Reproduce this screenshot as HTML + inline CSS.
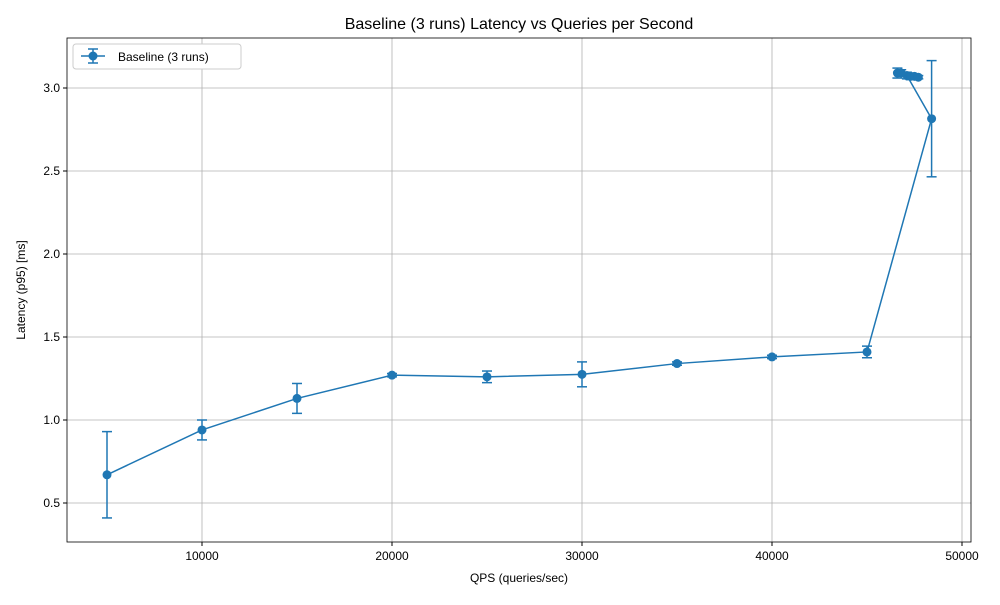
<!DOCTYPE html>
<html><head><meta charset="utf-8"><style>body{margin:0;background:#fff}svg{font-family:"Liberation Sans",sans-serif}</style></head>
<body>
<svg id="c" width="1000" height="600" xmlns="http://www.w3.org/2000/svg"></svg>
<script>
const qps=[5000,10000,15000,20000,25000,30000,35000,40000,45000,48400,47100,46600,46800,47300,47500,47700];
const latency=[0.67,0.94,1.13,1.27,1.26,1.275,1.34,1.38,1.41,2.815,3.075,3.09,3.09,3.07,3.07,3.065];
const errs=[0.26,0.06,0.09,0.01,0.035,0.075,0.01,0.01,0.035,0.35,0.02,0.03,0.02,0.02,0.01,0.01];
const xTicks=[10000,20000,30000,40000,50000];
const yTicks=[0.5,1.0,1.5,2.0,2.5,3.0];
const NS="http://www.w3.org/2000/svg",svg=document.getElementById('c');
const X=v=>12+v*0.019, Y=v=>88+(3.0-v)*166;
const L=67,R=971,T=38,B=542,C='#1f77b4';
function mk(t,a,p){const e=document.createElementNS(NS,t);for(const k in a)e.setAttribute(k,a[k]);(p||svg).appendChild(e);return e;}
xTicks.forEach(t=>{const x=X(t);
const g=mk('line',{x1:x,x2:x,y1:T,y2:B,stroke:'#b0b0b0','stroke-width':0.8});


mk('line',{x1:x,x2:x,y1:B,y2:B+4,stroke:'#000'});
const tx=mk('text',{x:x,y:B+18,'text-anchor':'middle','font-size':12});tx.textContent=t;

});
yTicks.forEach(t=>{const y=Y(t);
const g=mk('line',{x1:L,x2:R,y1:y,y2:y,stroke:'#b0b0b0','stroke-width':0.8});


mk('line',{x1:L-4,x2:L,y1:y,y2:y,stroke:'#000'});
const tx=mk('text',{x:L-7,y:y+4,'text-anchor':'end','font-size':12});tx.textContent=t.toFixed(1);

});
const fr=mk('rect',{x:L,y:T,width:R-L,height:B-T,fill:'none',stroke:'#000','stroke-width':0.8});


const pl=mk('polyline',{points:qps.map((q,i)=>X(q)+','+Y(latency[i])).join(' '),fill:'none',stroke:C,'stroke-width':1.5});


qps.forEach((q,i)=>{const x=X(q),y1=Y(latency[i]-errs[i]),y2=Y(latency[i]+errs[i]);
const g=mk('g',{stroke:C,'stroke-width':1.5});


mk('line',{x1:x,x2:x,y1:y1,y2:y2},g);mk('line',{x1:x-5,x2:x+5,y1:y1,y2:y1},g);mk('line',{x1:x-5,x2:x+5,y1:y2,y2:y2},g);
const c=mk('circle',{cx:x,cy:Y(latency[i]),r:4.5,fill:C});

});
</script>
<svg width="1000" height="600" style="position:absolute;left:0;top:0" xmlns="http://www.w3.org/2000/svg">
<text x="519" y="29" text-anchor="middle" font-size="16" font-family="Liberation Sans,sans-serif">Baseline (3 runs) Latency vs Queries per Second</text>
<text x="519" y="582" text-anchor="middle" font-size="12" font-family="Liberation Sans,sans-serif">QPS (queries/sec)</text>
<text transform="translate(25,290) rotate(-90)" text-anchor="middle" font-size="12" font-family="Liberation Sans,sans-serif">Latency (p95) [ms]</text>
<g>
<rect x="73" y="44" width="168" height="25" rx="3" fill="#fff" stroke="#ccc"/>
<g stroke="#1f77b4" stroke-width="1.5"><line x1="81" x2="105" y1="56" y2="56"/><line x1="93" x2="93" y1="49" y2="63"/><line x1="88" x2="98" y1="49" y2="49"/><line x1="88" x2="98" y1="63" y2="63"/></g>
<circle cx="93" cy="56" r="4.5" fill="#1f77b4"/>
<text x="118" y="61" font-size="12" font-family="Liberation Sans,sans-serif">Baseline (3 runs)</text>
</g>
</svg>
</body></html>
